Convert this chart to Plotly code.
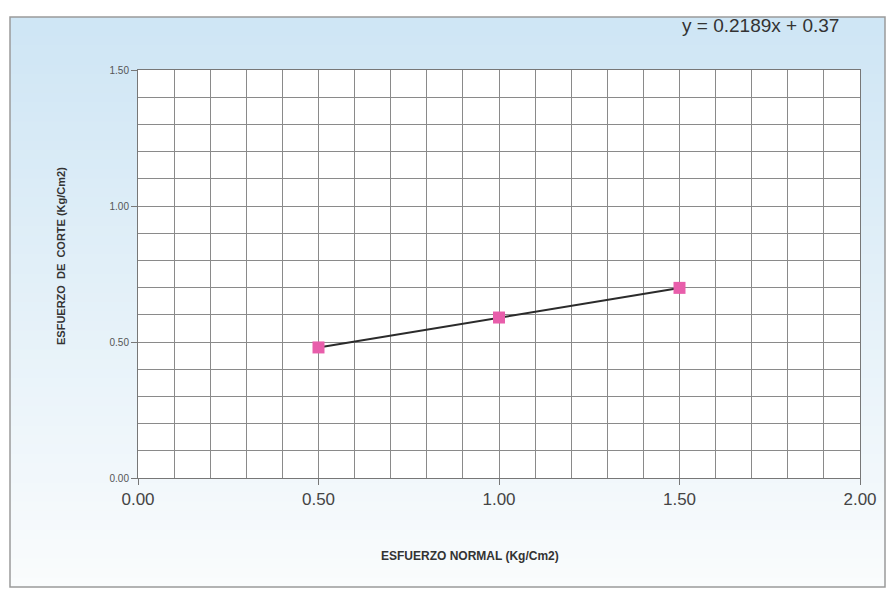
import numpy as np
import plotly.graph_objects as go

# Ensayo de corte directo: esfuerzo normal vs esfuerzo de corte
esfuerzo_normal = [0.50, 1.00, 1.50]
esfuerzo_corte = [0.48, 0.59, 0.699]

# Recta de ajuste mostrada en el gráfico
pendiente = 0.2189
intercepto = 0.37

x_ticks = [0.0, 0.5, 1.0, 1.5, 2.0]
x_tick_text = ["0.00", "0.50", "1.00", "1.50", "2.00"]
y_ticks = [0.0, 0.5, 1.0, 1.5]
y_tick_text = ["0.00", "0.50", "1.00", "1.50"]

W, H = 891, 591
ML, MR, MT, MB = 138, 31, 70, 113
pw, ph = W - ML - MR, H - MT - MB


def px_to_paper_x(px):
    return (px - ML) / pw


def px_to_paper_y(py):
    return 1 - (py - MT) / ph


fig = go.Figure()

# recta de tendencia
x_fit = np.array([min(esfuerzo_normal), max(esfuerzo_normal)])
y_fit = pendiente * x_fit + intercepto
fig.add_trace(go.Scatter(
    x=x_fit, y=y_fit, mode="lines",
    line=dict(color="#2b2b2b", width=2),
    showlegend=False, hoverinfo="skip",
))

# puntos del ensayo
fig.add_trace(go.Scatter(
    x=esfuerzo_normal, y=esfuerzo_corte, mode="markers",
    marker=dict(symbol="square", size=12, color="#e85eab",
                line=dict(width=0)),
    showlegend=False,
))

# fondo del marco con degradado celeste
shapes = []
fx0, fx1 = px_to_paper_x(10), px_to_paper_x(885)
top_px, bot_px = 17, 587
n = 60
c0 = np.array([207, 230, 245])
c1 = np.array([250, 252, 253])
for i in range(n):
    a = top_px + (bot_px - top_px) * i / n
    b = top_px + (bot_px - top_px) * (i + 1) / n
    t = i / (n - 1)
    c = (c0 * (1 - t) + c1 * t).astype(int)
    shapes.append(dict(
        type="rect", xref="paper", yref="paper",
        x0=fx0, x1=fx1, y0=px_to_paper_y(b + 0.6), y1=px_to_paper_y(a),
        fillcolor=f"rgb({c[0]},{c[1]},{c[2]})", line=dict(width=0),
        layer="below",
    ))
# área de trazado en blanco
shapes.append(dict(
    type="rect", xref="paper", yref="paper", x0=0, x1=1, y0=0, y1=1,
    fillcolor="white", line=dict(width=0), layer="below",
))
# borde del marco
shapes.append(dict(
    type="rect", xref="paper", yref="paper",
    x0=fx0, x1=fx1, y0=px_to_paper_y(bot_px), y1=px_to_paper_y(top_px),
    fillcolor="rgba(0,0,0,0)", line=dict(color="#9a9a9a", width=1.5),
    layer="below",
))

annotations = [
    dict(text="y = 0.2189x + 0.37", xref="paper", yref="paper",
         x=px_to_paper_x(760), y=px_to_paper_y(26), showarrow=False,
         xanchor="center", yanchor="middle",
         font=dict(family="Liberation Sans, Arial", size=19, color="#333333")),
    dict(text="<b>ESFUERZO NORMAL (Kg/Cm2)</b>", xref="paper", yref="paper",
         x=px_to_paper_x(470), y=px_to_paper_y(556), showarrow=False,
         xanchor="center", yanchor="middle",
         font=dict(family="Liberation Sans Narrow, Liberation Sans, Arial",
                   size=12, color="#333333")),
    dict(text="<b>ESFUERZO  DE  CORTE (Kg/Cm2)</b>", xref="paper", yref="paper",
         x=px_to_paper_x(61), y=px_to_paper_y(256), showarrow=False,
         textangle=-90, xanchor="center", yanchor="middle",
         font=dict(family="Liberation Sans Narrow, Liberation Sans, Arial",
                   size=11, color="#333333")),
]

fig.update_layout(
    width=W, height=H,
    margin=dict(l=ML, r=MR, t=MT, b=MB),
    paper_bgcolor="white",
    plot_bgcolor="white",
    shapes=shapes,
    annotations=annotations,
    showlegend=False,
)

fig.update_xaxes(
    range=[0, 2], tickvals=x_ticks, ticktext=x_tick_text,
    tickfont=dict(family="Liberation Sans, Arial", size=17, color="#444444"),
    showgrid=True, gridcolor="#8a8a8a", gridwidth=1,
    minor=dict(dtick=0.1, showgrid=True, gridcolor="#8a8a8a", gridwidth=1),
    ticks="outside", ticklen=6, tickcolor="#777777",
    showline=True, linecolor="#777777", linewidth=1, mirror=True,
    zeroline=False,
)
fig.update_yaxes(
    range=[0, 1.5], tickvals=y_ticks, ticktext=y_tick_text,
    tickfont=dict(family="Liberation Sans, Arial", size=10, color="#555555"),
    showgrid=True, gridcolor="#8a8a8a", gridwidth=1,
    minor=dict(dtick=0.1, showgrid=True, gridcolor="#8a8a8a", gridwidth=1),
    ticks="outside", ticklen=6, tickcolor="#777777",
    showline=True, linecolor="#777777", linewidth=1, mirror=True,
    zeroline=False,
)

fig.write_html("out.html")
